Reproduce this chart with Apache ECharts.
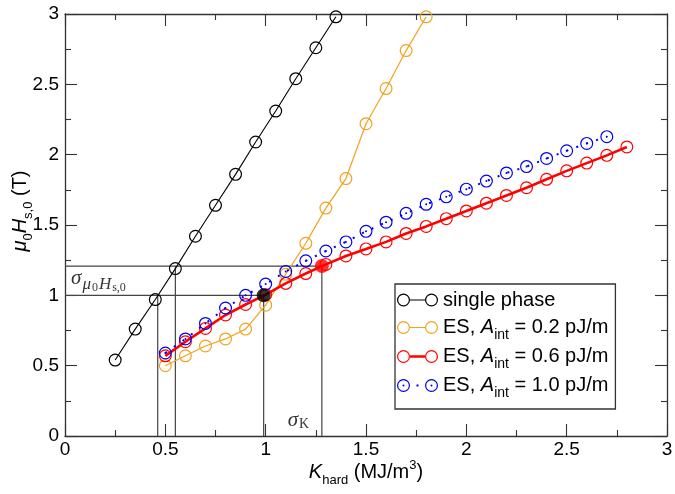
<!DOCTYPE html>
<html><head><meta charset="utf-8">
<script src="https://cdn.jsdelivr.net/npm/echarts@6/dist/echarts.min.js"></script>
<style>html,body{margin:0;padding:0;background:#fff}#c{width:675px;height:494px}</style>
</head><body><div id="c"></div>
<script>
// ---------- data ----------
const seriesNames = ['single phase', 'ES, A_int = 0.2 pJ/m', 'ES, A_int = 0.6 pJ/m', 'ES, A_int = 1.0 pJ/m'];
const aintLabels = ['', '0.2', '0.6', '1.0'];

const blackX = [0.25, 0.35, 0.45, 0.55, 0.65, 0.75, 0.85, 0.95, 1.05, 1.15, 1.25, 1.35];
const blackY = [0.54, 0.76, 0.97, 1.19, 1.42, 1.64, 1.86, 2.09, 2.31, 2.54, 2.76, 2.98];

const orangeX = [0.5, 0.6, 0.7, 0.8, 0.9, 1.0, 1.1, 1.2, 1.3, 1.4, 1.5, 1.6, 1.7, 1.8];
const orangeY = [0.50, 0.57, 0.64, 0.69, 0.76, 0.93, 1.15, 1.37, 1.62, 1.83, 2.22, 2.47, 2.74, 2.98];

const redX = [0.5, 0.6, 0.7, 0.8, 0.9, 1.0, 1.1, 1.2, 1.3, 1.4, 1.5, 1.6, 1.7, 1.8, 1.9, 2.0, 2.1, 2.2, 2.3, 2.4, 2.5, 2.6, 2.7, 2.8];
const redY = [0.57, 0.67, 0.765, 0.86, 0.935, 1.005, 1.085, 1.155, 1.22, 1.28, 1.33, 1.38, 1.44, 1.49, 1.545, 1.60, 1.655, 1.71, 1.765, 1.825, 1.885, 1.94, 1.995, 2.055];

const blueX = [0.5, 0.6, 0.7, 0.8, 0.9, 1.0, 1.1, 1.2, 1.3, 1.4, 1.5, 1.6, 1.7, 1.8, 1.9, 2.0, 2.1, 2.2, 2.3, 2.4, 2.5, 2.6, 2.7];
const blueY = [0.59, 0.69, 0.80, 0.91, 1.00, 1.08, 1.17, 1.245, 1.315, 1.38, 1.455, 1.52, 1.583, 1.647, 1.70, 1.755, 1.812, 1.87, 1.915, 1.973, 2.028, 2.08, 2.128];

// highlighted points (black: single-phase reference, red: ES 0.6)
const markX = [0.99, 1.28];
const markY = [1.0, 1.208];

// sigma guide construction: levels, single-phase crossing x, ES crossing x
const guideLevel = [1.0, 1.208];
const guideSingleX = [0.462, 0.55];
const guideEsX = [0.99, 1.28];

// annotation anchors
const annoX = [0.03, 1.11];
const annoY = [1.10, 0.092];
const annoKey = ['sigmaH', 'sigmaK'];

const xTicks = { min: 0, max: 3, step: 0.5 };
const yTicks = { min: 0, max: 3, step: 0.5 };

// ---------- styling ----------
const SANS = "'Liberation Sans', Arial, Helvetica, sans-serif";
const SERIF = "'Liberation Serif', 'Times New Roman', serif";
const AX = '#333';
const colors = ['#000000', '#f2a21e', '#ff0000', '#0000ee'];

const pair = (xs, ys) => xs.map((x, i) => [x, ys[i]]);

function circ(cx, cy, r, sweep) {
  return `M${cx - r},${cy} A${r},${r} 0 1,${sweep} ${cx + r},${cy} A${r},${r} 0 1,${sweep} ${cx - r},${cy} Z `;
}
function ring(cx, cy, r, w) { return circ(cx, cy, r, 0) + circ(cx, cy, r - w, 1); }
function rect(x, y, w, h) { return `M${x},${y} L${x + w},${y} L${x + w},${y + h} L${x},${y + h} Z `; }

const RW = 1.2;
const ringSym = 'path://' + ring(6.5, 6.5, 6.5, RW);
const blueSym = 'path://' + ring(6.5, 6.5, 6.5, RW) + circ(6.5, 6.5, 1.0, 0);

const iconRings = ring(6.5, 6.5, 6.5, RW) + ring(34.5, 6.5, 6.5, RW);
const icons = [
  'path://' + iconRings + rect(13, 6.0, 15, 1.0),
  'path://' + iconRings + rect(13, 6.0, 15, 1.0),
  'path://' + iconRings + rect(13, 5.25, 15, 2.5),
  'path://' + iconRings + circ(6.5, 6.5, 1.0, 0) + circ(34.5, 6.5, 1.0, 0) + rect(19.5, 5.5, 2, 2)
];

const legendRich = {
  n: { fontSize: 20, fontFamily: SANS, color: '#000', lineHeight: 20, padding: [3, 0, 3, 0] },
  i: { fontSize: 20, fontFamily: SANS, fontStyle: 'italic', color: '#000', lineHeight: 20, padding: [3, 0, 3, 0] },
  s: { fontSize: 14, fontFamily: SANS, color: '#000', lineHeight: 12, padding: [15, 0, 0, 0] }
};

const axisRich = {
  n: { fontSize: 20, fontFamily: SANS, color: '#000', lineHeight: 20, padding: [5, 0, 5, 0] },
  i: { fontSize: 20, fontFamily: SANS, fontStyle: 'italic', color: '#000', lineHeight: 20, padding: [5, 0, 5, 0] },
  s: { fontSize: 13, fontFamily: SANS, color: '#000', lineHeight: 12, padding: [17, 0, 1, 0] },
  u: { fontSize: 13, fontFamily: SANS, color: '#000', lineHeight: 12, padding: [2, 0, 16, 0] }
};

const annoRich = {
  sg: { fontSize: 21, fontFamily: SERIF, fontStyle: 'italic', color: '#000', lineHeight: 20, padding: [2, 1, 8, 0] },
  mu: { fontSize: 17, fontFamily: SERIF, fontStyle: 'italic', color: '#000', lineHeight: 16, padding: [10, 1, 4, 0] },
  z: { fontSize: 12, fontFamily: SERIF, color: '#000', lineHeight: 12, padding: [16, 1, 2, 0] },
  k: { fontSize: 14, fontFamily: SERIF, color: '#000', lineHeight: 14, padding: [9, 0, 7, 0] }
};

function axisBase(pos, showLabels) {
  const isX = pos === 'top' || pos === 'bottom';
  const t = isX ? xTicks : yTicks;
  return {
    type: 'value', position: pos,
    min: t.min, max: t.max, interval: t.step,
    axisLine: { show: true, onZero: false, lineStyle: { color: AX, width: 1.3 } },
    axisTick: { show: true, inside: true, length: 12, lineStyle: { color: AX, width: 1.1 } },
    minorTick: { show: true, splitNumber: 2, length: 6, lineStyle: { color: AX, width: 1.1 } },
    splitLine: { show: false }, minorSplitLine: { show: false },
    axisLabel: { show: showLabels, fontSize: 19, fontFamily: SANS, color: '#000' }
  };
}

const xBottom = Object.assign(axisBase('bottom', true), {
  name: '{i|K}{s|hard}{n| (MJ/m}{u|3}{n|)}',
  nameLocation: 'middle', nameGap: 26, nameMoveOverlap: false,
  nameTextStyle: { rich: axisRich }
});
xBottom.axisLabel.margin = 4;
const xTop = axisBase('top', false);

const yLeft = Object.assign(axisBase('left', true), {
  name: '{i|μ}{s|0}{i|H}{s|s,0}{n| (T)}',
  nameLocation: 'middle', nameGap: 35, nameRotate: 90, nameMoveOverlap: false,
  nameTextStyle: { rich: axisRich, padding: [0, 0, 0, 28] }
});
yLeft.axisLabel.margin = 6;
const yRight = axisBase('right', false);

// guide segments built from the arrays
const guideSegments = [];
guideLevel.forEach((lv, k) => {
  guideSegments.push([[0, lv], [guideEsX[k], lv]]);
  guideSegments.push([[guideSingleX[k], 0], [guideSingleX[k], lv]]);
  guideSegments.push([[guideEsX[k], 0], [guideEsX[k], lv]]);
});

const series = [];
guideSegments.forEach(seg => series.push({
  type: 'line', data: seg, symbol: 'none', silent: true, z: 1,
  lineStyle: { color: '#444', width: 1.2 }
}));

const dataSets = [pair(blackX, blackY), pair(orangeX, orangeY), pair(redX, redY), pair(blueX, blueY)];
const lineStyles = [
  { color: colors[0], width: 1.1 },
  { color: colors[1], width: 1.2 },
  { color: colors[2], width: 2.6 },
  { color: colors[3], width: 2, type: [2, 8.5] }
];
dataSets.forEach((d, k) => series.push({
  name: seriesNames[k], type: 'line', data: d, clip: false, z: 3 + k,
  symbol: k === 3 ? blueSym : ringSym, symbolSize: 13,
  itemStyle: { color: colors[k], borderWidth: 0 },
  lineStyle: lineStyles[k]
}));

series.push({
  type: 'scatter', z: 10, symbol: 'circle', symbolSize: 14, silent: true,
  data: markX.map((x, i) => ({ value: [x, markY[i]], itemStyle: { color: i === 0 ? '#000' : '#ff0000' } }))
});

series.push({
  type: 'scatter', z: 10, symbolSize: 0, silent: true,
  data: annoX.map((x, i) => ({ value: [x, annoY[i]], name: annoKey[i] })),
  label: {
    show: true, position: 'right', distance: 0,
    formatter: p => p.name === 'sigmaH' ? '{sg|σ}{mu|μ}{z|0}{mu|H}{z|s,0}' : '{sg|σ}{k|K}',
    rich: annoRich
  }
});

const chart = echarts.init(document.getElementById('c'), null, { renderer: 'canvas' });
chart.setOption({
  animation: false,
  backgroundColor: '#fff',
  grid: { left: 65, right: 8, top: 14, bottom: 58, containLabel: false, outerBoundsMode: 'none' },
  xAxis: [xBottom, xTop],
  yAxis: [yLeft, yRight],
  legend: {
    left: 395, top: 284, orient: 'vertical', align: 'left',
    padding: [3, 7, 9, 2], itemGap: 0, itemWidth: 41, itemHeight: 13,
    borderColor: '#333', borderWidth: 1.3, backgroundColor: '#fff',
    selectedMode: false,
    itemStyle: { borderWidth: 0 },
    data: seriesNames.map((n, k) => ({ name: n, icon: icons[k], itemStyle: { color: colors[k], borderWidth: 0 } })),
    formatter: name => {
      const k = seriesNames.indexOf(name);
      return k === 0 ? '{n|single phase}' : `{n|ES, }{i|A}{s|int}{n| = ${aintLabels[k]} pJ/m}`;
    },
    textStyle: { fontSize: 20, fontFamily: SANS, color: '#000', rich: legendRich }
  },
  series: series
});
</script>
</body></html>
